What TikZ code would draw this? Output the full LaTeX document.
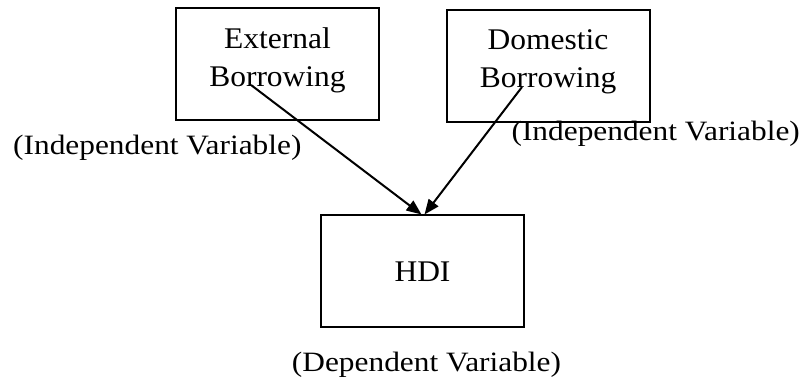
\documentclass[tikz,border=0pt]{standalone}
\usepackage{fontspec}
\setmainfont[FakeStretch=1.05]{Liberation Serif}
\newfontfamily\lblfont[FakeStretch=1.12]{Liberation Serif}
\usetikzlibrary{arrows.meta}
\begin{document}
\begin{tikzpicture}[x=1pt,y=1pt,
  box/.style={draw, line width=2pt, minimum width=203pt, minimum height=112pt,
    inner sep=0pt, align=center, font=\fontsize{30}{38}\selectfont},
  lbl/.style={inner sep=0pt, font=\lblfont\fontsize{28}{32}\selectfont},
  conn/.style={line width=2pt, -{Triangle[length=15pt,width=12pt]}}]
\useasboundingbox (0,0) rectangle (803,379);
\node[box, text depth=14pt] (ext) at (277.5,315) {External\\Borrowing};
\node[box, text depth=14pt] (dom) at (548,313) {Domestic\\Borrowing};
\node[box] (hdi) at (422.5,107.5) {HDI};
\node[lbl, anchor=base west] (lblext) at (13,224) {(Independent Variable)};
\node[lbl, anchor=base east] (lbldom) at (800,238) {(Independent Variable)};
\node[lbl, anchor=base] (lblhdi) at (426.5,7) {(Dependent Variable)};
\coordinate (s1) at (251,294);
\coordinate (s2) at (522,292);
\draw[conn] (s1) -- ([xshift=-1pt]hdi.north);
\draw[conn] (s2) -- ([xshift=2pt]hdi.north);
\end{tikzpicture}
\end{document}
